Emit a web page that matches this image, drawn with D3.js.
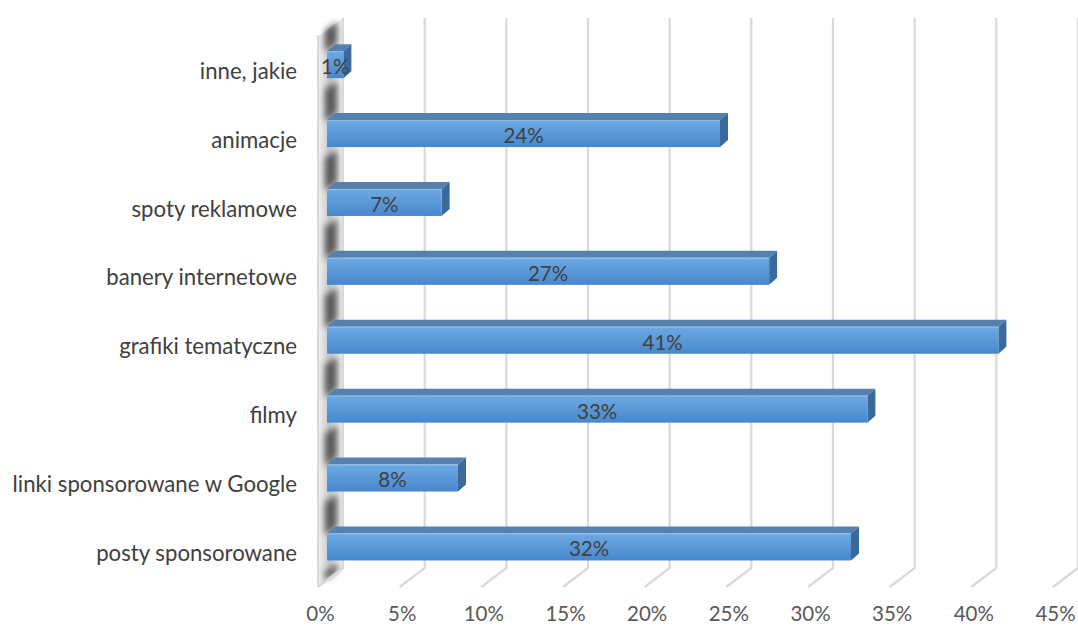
<!DOCTYPE html>
<html>
<head>
<meta charset="utf-8">
<script src="https://cdn.jsdelivr.net/npm/d3@7"></script>
<style>
  html, body { margin: 0; padding: 0; background: #ffffff; }
  svg { display: block; font-family: Lato, "Open Sans", sans-serif; }
</style>
</head>
<body>
<svg id="chart" width="1078" height="628"></svg>
<script>
// Categories listed top to bottom
const categories = [
  "inne, jakie",
  "animacje",
  "spoty reklamowe",
  "banery internetowe",
  "grafiki tematyczne",
  "filmy",
  "linki sponsorowane w Google",
  "posty sponsorowane"
];
const values = [1, 24, 7, 27, 41, 33, 8, 32];
const tickValues = [0, 5, 10, 15, 20, 25, 30, 35, 40, 45];

const svg = d3.select("#chart");
const defs = svg.append("defs");

// Perspective layout
const backX0 = 343;      // 0% on the back wall
const frontX0 = 318;     // 0% at the front edge of the floor
const barX0 = 327;       // 0% on the bar front faces
const wallTop = 18, wallBottom = 568;
const depthDX = -25, depthDY = 19;  // back wall -> front floor
const barDX = 8, barDY = -7;        // bar front -> bar back

const x = d3.scaleLinear().domain([0, 45]).range([0, 735]);
const xBar = d3.scaleLinear().domain([0, 1]).range([0, 16.375]);

const y = d3.scaleBand()
  .domain(categories)
  .range([30.2, 581.4])
  .paddingInner(0.608)
  .paddingOuter(0.304);

// Gradients
const frontGrad = defs.append("linearGradient").attr("id", "barFront")
  .attr("x1", 0).attr("y1", 0).attr("x2", 0).attr("y2", 1);
frontGrad.append("stop").attr("offset", "0%").attr("stop-color", "#6eaae3");
frontGrad.append("stop").attr("offset", "100%").attr("stop-color", "#4787cc");

const wallGrad = defs.append("linearGradient").attr("id", "wallGrad")
  .attr("x1", 0).attr("y1", 0).attr("x2", 1).attr("y2", 0);
wallGrad.append("stop").attr("offset", "0%").attr("stop-color", "#f2f2f2");
wallGrad.append("stop").attr("offset", "45%").attr("stop-color", "#c8c8c8");
wallGrad.append("stop").attr("offset", "100%").attr("stop-color", "#f2f2f2");

defs.append("filter").attr("id", "soft")
  .attr("x", "-50%").attr("y", "-50%").attr("width", "200%").attr("height", "200%")
  .append("feGaussianBlur").attr("stdDeviation", 3.2);

// Left side wall
const wall = svg.append("g").attr("class", "side-wall");
wall.append("path")
  .attr("d", `M${backX0},${wallTop} L${backX0},${wallBottom} L${backX0 + depthDX},${wallBottom + depthDY} L${backX0 + depthDX},${wallTop + depthDY}Z`)
  .attr("fill", "url(#wallGrad)");

// Dark shading between the bars on the side wall
const bandTops = categories.map(c => y(c));
const gaps = [];
gaps.push([wallTop + 4, bandTops[0] - 4]);
for (let i = 0; i < categories.length - 1; i++) {
  gaps.push([bandTops[i] + y.bandwidth() + 3, bandTops[i + 1] - 3]);
}
gaps.push([bandTops[categories.length - 1] + y.bandwidth() + 3, wallBottom + 8]);
wall.selectAll("path.shade").data(gaps).join("path")
  .attr("class", "shade")
  .attr("d", g => `M${325},${g[0] + 8} L${337},${g[0]} L${337},${g[1] - 4} L${325},${g[1] + 4}Z`)
  .attr("fill", "#3c3c3c")
  .attr("opacity", 0.8)
  .attr("filter", "url(#soft)");

// Wall edges
wall.append("line")
  .attr("x1", backX0 + depthDX).attr("x2", backX0 + depthDX)
  .attr("y1", wallTop + 17).attr("y2", wallBottom + depthDY)
  .attr("stroke", "#d9d9d9").attr("stroke-width", 2);

// Back wall gridlines with floor segments
const grid = svg.append("g").attr("class", "grid");
grid.selectAll("path").data(tickValues).join("path")
  .attr("d", v => {
    const bx = backX0 + x(v);
    return `M${bx},${wallTop} L${bx},${wallBottom} L${bx + depthDX},${wallBottom + depthDY}`;
  })
  .attr("fill", "none")
  .attr("stroke", "#d9d9d9")
  .attr("stroke-width", 2.2);

// Bars
const bars = svg.append("g").attr("class", "bars")
  .selectAll("g").data(categories.map((c, i) => ({ c, v: values[i] })))
  .join("g");

bars.each(function (d) {
  const g = d3.select(this);
  const x1 = barX0, x2 = barX0 + xBar(d.v);
  const y1 = y(d.c), y2 = y(d.c) + y.bandwidth();
  // top face
  g.append("path")
    .attr("d", `M${x1},${y1} L${x1 + barDX},${y1 + barDY} L${x2 + barDX},${y1 + barDY} L${x2},${y1}Z`)
    .attr("fill", "#5680ad");
  // right face
  g.append("path")
    .attr("d", `M${x2},${y1} L${x2 + barDX},${y1 + barDY} L${x2 + barDX},${y2 + barDY} L${x2},${y2}Z`)
    .attr("fill", "#3a6a9c");
  // front face
  g.append("rect")
    .attr("x", x1).attr("y", y1)
    .attr("width", x2 - x1).attr("height", y2 - y1)
    .attr("fill", "url(#barFront)");
  g.append("line")
    .attr("x1", x1).attr("x2", x2).attr("y1", y1 + 0.5).attr("y2", y1 + 0.5)
    .attr("stroke", "#8fc0ee").attr("stroke-width", 1);
});

// Data labels
svg.append("g").attr("class", "data-labels")
  .selectAll("text").data(categories.map((c, i) => ({ c, v: values[i] })))
  .join("text")
  .attr("x", d => barX0 + xBar(d.v) / 2)
  .attr("y", d => y(d.c) + y.bandwidth() / 2 + 2)
  .attr("dy", "0.36em")
  .attr("text-anchor", "middle")
  .attr("font-size", 20.5)
  .attr("fill", "#404040")
  .text(d => d.v + "%");

// Category axis
const yAxis = svg.append("g")
  .attr("transform", `translate(297,7)`)
  .call(d3.axisLeft(y).tickSize(0).tickPadding(0));
yAxis.select(".domain").remove();
yAxis.selectAll("text")
  .attr("font-size", 22.2)
  .attr("font-family", "Lato, 'Open Sans', sans-serif")
  .attr("fill", "#404040");

// Value axis
const xAxis = svg.append("g")
  .attr("transform", `translate(${frontX0 + 2},606)`)
  .call(d3.axisBottom(x).tickValues(tickValues).tickFormat(v => v + "%").tickSize(0).tickPadding(0));
xAxis.select(".domain").remove();
xAxis.selectAll("text")
  .attr("font-size", 20.5)
  .attr("font-family", "Lato, 'Open Sans', sans-serif")
  .attr("fill", "#595959");
</script>
</body>
</html>
